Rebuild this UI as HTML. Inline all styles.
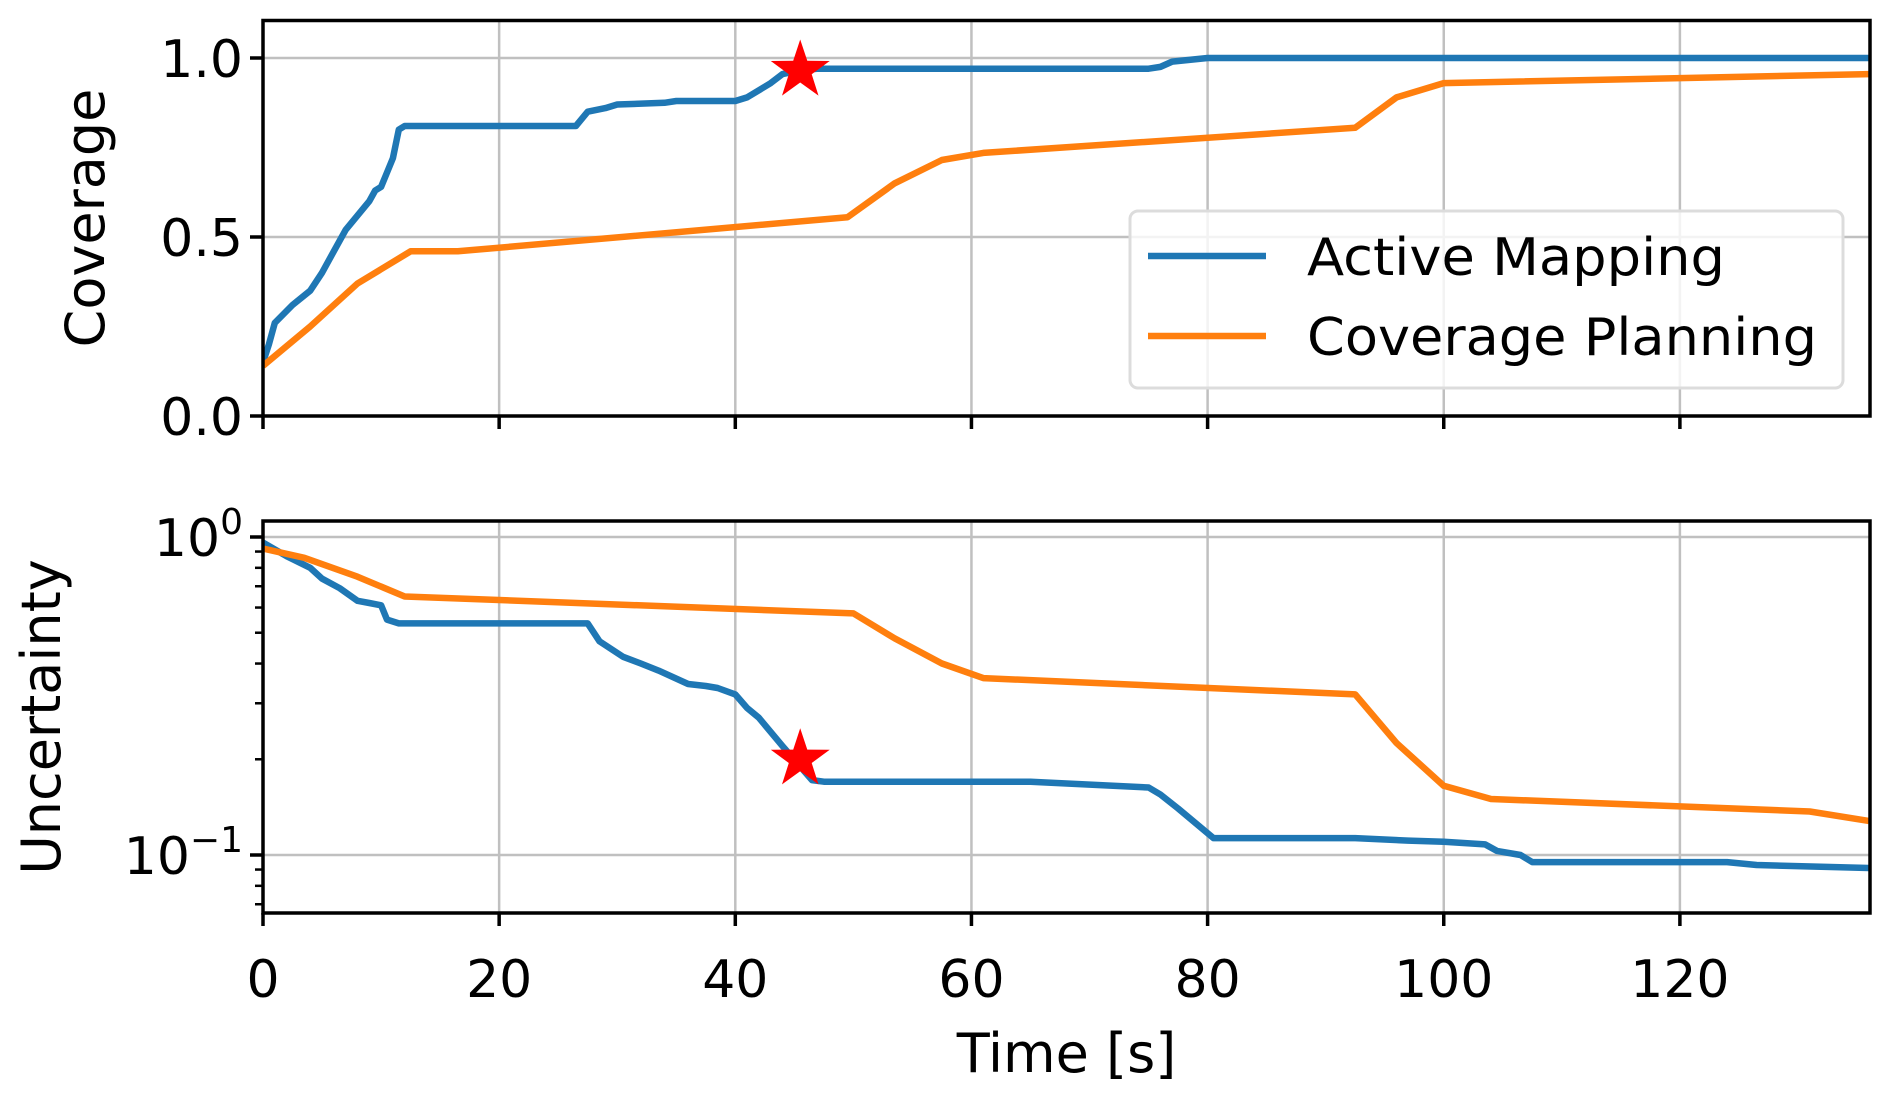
<!DOCTYPE html>
<html><head><meta charset="utf-8"><style>
html,body{margin:0;padding:0;background:#fff;}
svg{display:block;font-family:"DejaVu Sans","Liberation Sans",sans-serif;}
</style></head><body>
<svg id="chart" width="1892" height="1097" viewBox="0 0 1892 1097">
<g id="topPanel"></g>
<g id="botPanel"></g>
<g id="legend"></g>
</svg>
<script>
const xTicks=[0,20,40,60,80,100,120];
const covTicks=[0,0.5,1.0];
const covTickLabels=["0.0","0.5","1.0"];
const amCovX=[0,0.5,1,2.5,4,5,6,7,9,9.5,10,11,11.5,12,26.5,27.5,29,30,34,35,40,41,43,44,45.5,47,75,76,77,80,125,136];
const amCovY=[0.15,0.2,0.26,0.31,0.35,0.4,0.46,0.52,0.6,0.63,0.64,0.72,0.8,0.81,0.81,0.85,0.86,0.87,0.875,0.88,0.88,0.89,0.93,0.955,0.965,0.97,0.97,0.975,0.99,1.0,1.0,1.0];
const cpCovX=[0,4,8,12.5,16.5,49.5,53.5,57.5,61,92.5,96,100,136];
const cpCovY=[0.14,0.25,0.37,0.46,0.46,0.555,0.65,0.715,0.735,0.805,0.89,0.93,0.955];
const amUncX=[0,2,4,5,6.5,8,9,10,10.5,11.5,27.5,28.5,30.5,32,33.5,36,37.5,38.5,40,41,42,44,46.5,47.5,65,75,76,77.5,80.5,92.5,97,100,103.5,104.5,106.5,107.5,124,126.5,136];
const amUncY=[0.96,0.87,0.8,0.74,0.69,0.63,0.62,0.61,0.55,0.535,0.535,0.47,0.42,0.4,0.38,0.345,0.34,0.335,0.32,0.29,0.27,0.22,0.172,0.17,0.17,0.163,0.155,0.14,0.113,0.113,0.111,0.11,0.108,0.103,0.1,0.095,0.095,0.093,0.091];
const cpUncX=[0,3.5,8,12,50,53.5,57.5,61,92.5,96,100,104,131,136];
const cpUncY=[0.92,0.86,0.75,0.65,0.575,0.48,0.4,0.36,0.32,0.225,0.165,0.15,0.137,0.128];
const starX=[45.5];
const starCov=[0.965];
const starUnc=[0.2];

const NS="http://www.w3.org/2000/svg";
const L=263,R=1870;
const T1=20.5,B1=416, T2=521,B2=913;
function sx(v){return L+v*(R-L)/136.1;}
function sy1(v){return 416-v*358;}
function sy2(v){return 537-Math.log10(v)*318;}
function mk(tag,attrs,parent){const e=document.createElementNS(NS,tag);for(const k in attrs)e.setAttribute(k,attrs[k]);parent.appendChild(e);return e;}
const gTop=document.getElementById('topPanel'),gBot=document.getElementById('botPanel'),gLeg=document.getElementById('legend');

function panel(g,T,B){
  xTicks.forEach(t=>{
    const l=mk('line',{x1:sx(t),x2:sx(t),y1:T,y2:B,stroke:'#c0c0c0','stroke-width':2.5},g);
    
    
    const tk=mk('line',{x1:sx(t),x2:sx(t),y1:B,y2:B+13,stroke:'#000','stroke-width':3.5},g);
    
    
  });
}
panel(gTop,T1,B1);
panel(gBot,T2,B2);
covTicks.forEach((t,i)=>{
  const y=sy1(t);
  const gl=mk('line',{x1:L,x2:R,y1:y,y2:y,stroke:'#c0c0c0','stroke-width':2.5},gTop);
  
  
  const tk=mk('line',{x1:L-13,x2:L,y1:y,y2:y,stroke:'#000','stroke-width':3.5},gTop);
  
  
  const tx=mk('text',{x:L-20,y:y+19,'text-anchor':'end','font-size':52},gTop);
  tx.textContent=covTickLabels[i];
  
  
});
const majors=[1,0.1];
majors.forEach((t,i)=>{
  const y=sy2(t);
  const gl=mk('line',{x1:L,x2:R,y1:y,y2:y,stroke:'#c0c0c0','stroke-width':2.5},gBot);
  
  
  const tk=mk('line',{x1:L-13,x2:L,y1:y,y2:y,stroke:'#000','stroke-width':3.5},gBot);
  
  
  const tx=mk('text',{x:L-20,y:y+19,'text-anchor':'end','font-size':52},gBot);
  
  
  const b=document.createElementNS(NS,'tspan');b.textContent='10';tx.appendChild(b);
  const s=document.createElementNS(NS,'tspan');s.setAttribute('dy','-22');s.setAttribute('font-size','36');s.textContent=i===0?'0':'\u22121';tx.appendChild(s);
});
[0.07,0.08,0.09,0.2,0.3,0.4,0.5,0.6,0.7,0.8,0.9].forEach(v=>{
  const y=sy2(v);
  const tk=mk('line',{x1:L-8,x2:L,y1:y,y2:y,stroke:'#000','stroke-width':2.5},gBot);
  
  
});
xTicks.forEach(t=>{
  const tx=mk('text',{x:sx(t),y:997,'text-anchor':'middle','font-size':52},gBot);
  tx.textContent=String(t);
  
  
});
function line(g,xs,ys,fy,color,name){
  const d=xs.map((x,i)=>(i?'L':'M')+sx(x).toFixed(1)+','+fy(ys[i]).toFixed(1)).join(' ');
  const p=mk('path',{d:d,fill:'none',stroke:color,'stroke-width':6.5,'stroke-linejoin':'round'},g);
  
  
}
function clip(g,T,B,id){const c=mk('clipPath',{id:id},g);mk('rect',{x:L,y:T,width:R-L,height:B-T},c);}
clip(gTop,T1,B1,'c1');clip(gBot,T2,B2,'c2');
const g1=mk('g',{'clip-path':'url(#c1)'},gTop);
const g2=mk('g',{'clip-path':'url(#c2)'},gBot);
line(g1,amCovX,amCovY,sy1,'#1f77b4','active-mapping-coverage-line');
line(g1,cpCovX,cpCovY,sy1,'#ff7f0e','coverage-planning-coverage-line');
line(g2,amUncX,amUncY,sy2,'#1f77b4','active-mapping-uncertainty-line');
line(g2,cpUncX,cpUncY,sy2,'#ff7f0e','coverage-planning-uncertainty-line');
function star(g,cx,cy,name){
  const pts=[];for(let i=0;i<10;i++){const r=i%2?12:31;const a=-Math.PI/2+i*Math.PI/5;pts.push((cx+r*Math.cos(a)).toFixed(1)+','+(cy+r*Math.sin(a)).toFixed(1));}
  const p=mk('polygon',{points:pts.join(' '),fill:'#ff0000'},g);
  
  
}
star(gTop,sx(starX[0]),sy1(starCov[0]),'coverage-star-marker');
star(gBot,sx(starX[0]),sy2(starUnc[0]),'uncertainty-star-marker');
const s1=mk('rect',{x:L,y:T1,width:R-L,height:B1-T1,fill:'none',stroke:'#000','stroke-width':3.5},gTop);


const s2=mk('rect',{x:L,y:T2,width:R-L,height:B2-T2,fill:'none',stroke:'#000','stroke-width':3.5},gBot);


const yl1=mk('text',{x:0,y:0,'text-anchor':'middle','font-size':54,transform:'translate(104,218) rotate(-90)'},gTop);
yl1.textContent='Coverage';


const yl2=mk('text',{x:0,y:0,'text-anchor':'middle','font-size':54,transform:'translate(60,717) rotate(-90)'},gBot);
yl2.textContent='Uncertainty';


const xl=mk('text',{x:(L+R)/2,y:1072,'text-anchor':'middle','font-size':54},gBot);
xl.textContent='Time [s]';


const lb=mk('rect',{x:1130,y:211,width:713,height:177,rx:8,fill:'#fff','fill-opacity':0.8,stroke:'#dcdcdc','stroke-width':3},gLeg);


[['Active Mapping','#1f77b4',256,'legend-entry-active-mapping',418],['Coverage Planning','#ff7f0e',336,'legend-entry-coverage-planning',510]].forEach(e=>{
  const g=mk('g',{},gLeg);
  
  
  mk('line',{x1:1148,x2:1266,y1:e[2],y2:e[2],stroke:e[1],'stroke-width':6.5},g);
  const t=mk('text',{x:1307,y:e[2]+19,'font-size':52,textLength:e[4],lengthAdjust:'spacingAndGlyphs'},g);
  t.textContent=e[0];
});
</script>
</body></html>
